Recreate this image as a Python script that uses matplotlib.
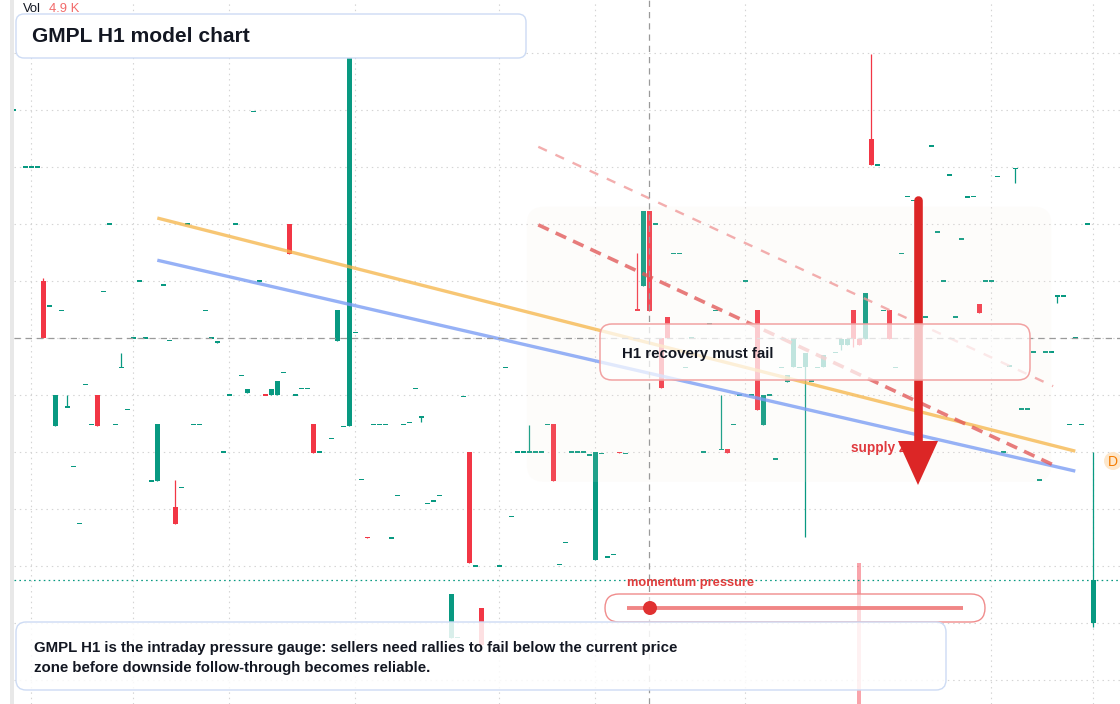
import matplotlib
matplotlib.use("Agg")
import matplotlib.pyplot as plt
from matplotlib.patches import FancyBboxPatch, Polygon, Rectangle, Circle
import numpy as np

plt.rcParams['font.family'] = ['Liberation Sans', 'DejaVu Sans']

# ---------------- data (H1 bars, price units) ----------------
candle_idx = [-2, 0, 1, 2, 3, 4, 5, 6, 7, 8,
              9, 10, 11, 12, 13, 14, 15, 16, 17, 18,
              19, 20, 21, 22, 23, 24, 25, 26, 27, 28,
              29, 30, 31, 32, 33, 34, 35, 36, 37, 38,
              39, 40, 41, 42, 43, 44, 45, 46, 47, 48,
              49, 51, 52, 53, 54, 55, 56, 57, 58, 59,
              60, 61, 62, 63, 64, 65, 66, 67, 68, 69,
              71, 72, 73, 74, 75, 76, 79, 80, 81, 82,
              83, 84, 85, 86, 87, 88, 89, 90, 91, 92,
              93, 94, 95, 96, 97, 98, 99, 100, 102, 103,
              104, 105, 106, 107, 108, 109, 110, 111, 113, 114,
              115, 116, 117, 118, 119, 120, 121, 122, 123, 124,
              125, 126, 127, 128, 129, 130, 131, 132, 133, 135,
              136, 137, 138, 139, 140, 141, 142, 143, 144, 145,
              146, 147, 148, 150, 151, 152, 153, 154, 155, 156,
              157, 158, 159, 160, 161, 162, 163, 164, 165, 166,
              167, 168, 169, 170, 171, 172, 173, 174, 175, 176,
              177, 178]

opens = [100, 90, 90, 90, 70, 65.7, 44.7, 64.9, 47.9, 37.5,
         27.5, 51.9, 44.9, 50, 68.2, 80, 44.9, 54.9, 47.5, 60,
         70, 60, 35, 34.9, 69.4, 59.6, 30.4, 33.8, 80, 44.9,
         44.9, 64.9, 60, 59.2, 40, 50, 80, 53.5, 50.4, 99.8,
         70, 50.1, 50, 50, 54, 80, 50, 51.2, 51.2, 44.9,
         40, 42.4, 59.5, 44.5, 44.7, 61, 35.2, 25.1, 44.9, 44.9,
         44.9, 25, 32.4, 44.9, 45.2, 51.2, 46.2, 31, 31.5, 32.4,
         7.5, 7.5, 49.8, 40, 20, 12.7, 20, 54.9, 28.7, 40,
         40, 40, 40, 40, 44.9, 44.9, 20.3, 24.2, 40, 40,
         40, 39.5, 21.1, 39.8, 21.6, 22.1, 40, 39.8, 65, 69.1,
         82.3, 80, 60, 63.7, 74.9, 74.9, 54.9, 60, 40, 62.5,
         64.9, 40.5, 40.5, 44.9, 50, 70, 50, 64.9, 44.8, 50,
         38.8, 54.9, 52.4, 54.9, 54.9, 54.9, 52.5, 54.9, 54.9, 57.5,
         58.8, 58.8, 65, 59.9, 59.9, 94.9, 90.4, 64.9, 64.9, 54.9,
         74.9, 84.9, 84.2, 63.7, 93.7, 78.6, 70, 88.6, 63.7, 77.4,
         84.8, 84.9, 66.1, 70, 70, 88.4, 40, 55.1, 89.8, 47.6,
         47.6, 57.6, 35.1, 57.6, 57.6, 67.4, 67.4, 44.9, 60, 44.9,
         80, 10]

closes = [100, 90, 90, 90, 60, 65.7, 50, 64.9, 47.9, 37.5,
          27.5, 51.9, 44.9, 44.7, 68.2, 80, 44.9, 54.9, 47.5, 60,
          70, 60, 35, 44.9, 69.4, 59.6, 27.5, 33.8, 80, 44.9,
          44.9, 64.9, 60, 59.5, 40, 50, 80, 53.5, 51.1, 99.8,
          70, 50, 51.1, 52.5, 54, 74.8, 50, 51.2, 51.2, 39.9,
          40, 42.4, 64.9, 44.5, 109.4, 61, 35.2, 25, 44.9, 44.9,
          44.9, 25, 32.4, 44.9, 45.2, 51.2, 46.2, 31, 31.5, 32.4,
          15.1, 7.5, 49.8, 20.6, 20, 6.2, 20, 54.9, 28.7, 40,
          40, 40, 40, 40, 44.9, 34.9, 20.3, 24.2, 40, 40,
          40, 39.5, 40, 39.8, 21.6, 22.1, 39.9, 39.8, 64.9, 82.3,
          64.8, 80, 51.3, 60, 74.9, 74.9, 54.9, 60, 40, 62.5,
          64.9, 40.5, 39.9, 44.9, 50, 70, 50, 47.4, 50, 50,
          38.8, 54.9, 53.6, 60, 54.9, 57.5, 52.5, 54.9, 57, 57.5,
          59.9, 59.9, 59.9, 58.8, 67.9, 90.4, 90.4, 64.9, 59.9, 54.9,
          74.9, 84.9, 84.2, 63.7, 93.7, 78.6, 70, 88.6, 63.7, 77.4,
          84.8, 84.9, 64.4, 70, 70, 88.4, 40, 55.1, 89.8, 47.6,
          47.6, 57.6, 35.1, 57.6, 57.6, 67.4, 67.4, 44.9, 60, 44.9,
          80, 17.6]

highs = [100, 90, 90.3, 90, 70.6, 65.7, 50, 64.9, 50, 37.5,
         27.5, 51.9, 44.9, 50, 68.2, 80, 44.9, 57.5, 47.5, 60,
         70, 60, 35, 44.9, 69.4, 59.6, 35.1, 33.8, 80, 44.9,
         44.9, 64.9, 60, 59.5, 40, 50, 80, 53.5, 51.1, 99.8,
         70, 50.1, 51.1, 52.5, 54, 80, 50, 51.2, 51.2, 44.9,
         40, 42.4, 64.9, 44.5, 109.4, 61, 35.2, 25.1, 44.9, 44.9,
         44.9, 25, 32.4, 44.9, 45.2, 51.2, 46.2, 31, 31.5, 32.4,
         15.1, 7.5, 49.8, 40, 20, 12.7, 20, 54.9, 28.7, 40,
         40, 44.8, 40, 40, 44.9, 44.9, 20.3, 24.2, 40, 40,
         40, 39.5, 40, 39.8, 21.6, 22.1, 40, 39.8, 74.9, 82.3,
         82.3, 80, 60, 63.7, 74.9, 74.9, 54.9, 60, 40, 62.5,
         64.9, 50, 40.5, 44.9, 50, 70, 50, 64.9, 50, 50,
         38.8, 54.9, 53.6, 60, 54.9, 57.5, 52.5, 54.9, 57, 57.5,
         59.9, 59.9, 65, 59.9, 67.9, 109.9, 90.4, 64.9, 64.9, 54.9,
         74.9, 84.9, 84.2, 63.7, 93.7, 78.6, 70, 88.6, 63.7, 77.4,
         84.8, 84.9, 66.1, 70, 70, 88.4, 40, 55.1, 89.8, 47.6,
         47.6, 57.6, 35.1, 57.6, 57.6, 67.4, 67.4, 44.9, 60, 44.9,
         80, 40]

lows = [100, 90, 90, 90, 60, 65.7, 44.7, 64.9, 47.9, 37.5,
        27.5, 51.9, 44.9, 44.7, 68.2, 80, 44.9, 54.9, 47.5, 60,
        70, 60, 35, 34.9, 69.4, 59.6, 27.5, 33.8, 80, 44.9,
        44.9, 64.9, 60, 59.2, 40, 50, 80, 53.5, 50.4, 99.8,
        70, 50, 50, 50, 54, 74.8, 50, 51.2, 51.2, 39.9,
        40, 42.4, 59.5, 44.5, 44.7, 61, 35.2, 25, 44.9, 44.9,
        44.9, 25, 32.4, 44.9, 45.2, 51.2, 45.3, 31, 31.5, 32.4,
        7.5, 7.5, 49.8, 20.6, 20, 6.2, 20, 54.9, 28.7, 40,
        40, 40, 40, 40, 44.9, 34.9, 20.3, 24.2, 40, 40,
        40, 39.5, 21.1, 39.8, 21.6, 22.1, 39.9, 39.8, 64.9, 69.1,
        64.8, 80, 51.3, 60, 74.9, 74.9, 54.9, 60, 40, 62.5,
        64.9, 40.5, 39.9, 44.9, 50, 70, 50, 47.4, 44.8, 50,
        38.8, 54.9, 52.4, 54.9, 54.9, 25.2, 52.5, 54.9, 54.9, 57.5,
        57.9, 58.8, 58.5, 58.8, 59.9, 90.4, 90.4, 64.9, 59.9, 54.9,
        74.9, 84.9, 84.2, 63.7, 93.7, 78.6, 70, 88.6, 63.7, 77.4,
        84.8, 84.9, 64.4, 70, 70, 88.4, 40, 55.1, 87.3, 47.6,
        47.6, 57.6, 35.1, 57.6, 57.6, 66.2, 67.4, 44.9, 60, 44.9,
        80, 9.3]

volume_idx = [139]
volume_k = [4.9]

# trend lines (bar index, price)
yellow_line_idx = [22, 175]
yellow_line_px = [81.1, 40.2]
blue_line_idx = [22, 175]
blue_line_px = [73.7, 36.7]
red_dash_idx = [85.5, 171.3]
red_dash_px = [79.9, 37.8]
pink_dash_idx = [85.5, 171.3]
pink_dash_px = [93.6, 51.6]

zone_idx = [83.6, 171.0]
zone_px = [34.8, 83.1]

grid_levels = [0, 10, 20, 30, 40, 50, 60, 70, 80, 90, 100, 110]
session_idx = [1, 18, 34, 55, 79, 95, 120, 161, 178]
crosshair_idx = 104
crosshair_px = 60

UP = '#089981'
DOWN = '#f23645'

# ---------------- figure ----------------
W, H = 1120, 704
fig = plt.figure(figsize=(W / 100, H / 100), dpi=100)
fig.patch.set_facecolor('white')
ax = fig.add_axes([14 / W, 0, 1 - 14 / W, 1])
ax.set_xlim(-1.883, 182.45)
ax.set_ylim(-4.16, 119.35)
ax.axis('off')
T = fig.dpi_scale_trans


def P(x, y):
    return (x / 100.0, (H - y) / 100.0)


# left border strip
fig.patches.append(Rectangle(P(10, 704), 4 / 100, 7.04, transform=T,
                             facecolor='#e8e8e8', edgecolor='none', zorder=0))

# grid
for g in grid_levels:
    ax.axhline(g, color='#d4d4d4', lw=0.8, ls=(0, (1.3, 3.5)), zorder=0)
for s in session_idx:
    ax.axvline(s, color='#d4d4d4', lw=0.8, ls=(0, (1.3, 3.5)), zorder=0)

# volume (bottom pane, 20% height)
ylo, yhi = ax.get_ylim()
pane_h = 0.2 * (yhi - ylo)
vmax = max(volume_k)
for i, v in zip(volume_idx, volume_k):
    ax.bar(i, v / vmax * pane_h, bottom=ylo, width=0.7,
           color=DOWN, alpha=0.45, zorder=1, linewidth=0)

# candles
o = np.array(opens, float); c = np.array(closes, float)
hi = np.array(highs, float); lo = np.array(lows, float)
xi = np.array(candle_idx, float)
cols = np.where(c >= o, UP, DOWN)
ax.vlines(xi, lo, hi, colors=cols, lw=0.9, zorder=2)
bot = np.minimum(o, c)
ht = np.abs(c - o)
min_h = 0.28
small = ht < min_h
bot = np.where(small, (o + c) / 2 - min_h / 2, bot)
ht = np.where(small, min_h, ht)
ax.bar(xi, ht, bottom=bot, width=0.8, color=cols, linewidth=0, zorder=2.1)

# zone shading
ax.add_patch(FancyBboxPatch((zone_idx[0], zone_px[0]), zone_idx[1] - zone_idx[0],
                            zone_px[1] - zone_px[0],
                            boxstyle="round,pad=0,rounding_size=3",
                            mutation_aspect=0.95,
                            facecolor='#f3e7da', alpha=0.11, edgecolor='none', zorder=3))

# trend lines
ax.plot(yellow_line_idx, yellow_line_px, color='#f6b74d', alpha=0.78, lw=2.4,
        solid_capstyle='butt', zorder=4)
ax.plot(blue_line_idx, blue_line_px, color='#7c9ef4', alpha=0.8, lw=2.4,
        solid_capstyle='butt', zorder=4)
ax.plot(red_dash_idx, red_dash_px, color='#e25858', alpha=0.78, lw=2.6,
        ls=(0, (3.2, 2.1)), zorder=4)
ax.plot(pink_dash_idx, pink_dash_px, color='#f09a9a', alpha=0.8, lw=1.7,
        ls=(0, (4.0, 4.0)), zorder=4)

# price line (last close)
ax.axhline(closes[-1], color=UP, lw=0.9, ls=(0, (1.3, 2.6)), zorder=4)

# crosshair
ax.axvline(crosshair_idx, color='#9a9a9a', lw=0.9, ls=(0, (5, 4)), zorder=4.5)
ax.axhline(crosshair_px, color='#9a9a9a', lw=0.9, ls=(0, (5, 4)), zorder=4.5)

# supply zone label (under arrow)
ax.text(*P(851, 448), 'supply zone', transform=T, fontsize=9.8, fontweight='bold',
        color='#e0393e', va='center', ha='left', zorder=4.8)

# big arrow
ax.plot([P(918, 200)[0], P(918, 445)[0]], [P(918, 200)[1], P(918, 445)[1]],
        transform=T, color='#dc2626', lw=6.2, solid_capstyle='round', zorder=5)
ax.add_patch(Polygon([P(898, 441), P(938, 441), P(918, 485)], closed=True,
                     transform=T, facecolor='#dc2626', edgecolor='none', zorder=5))


def box(x0, y0, x1, y1, fc, ec, lw, r, z):
    p = FancyBboxPatch(P(x0, y1), (x1 - x0) / 100, (y1 - y0) / 100,
                       boxstyle=f"round,pad=0,rounding_size={r / 100}",
                       transform=T, facecolor=fc, edgecolor=ec, lw=lw,
                       zorder=z, clip_on=False)
    ax.add_patch(p)


# H1 callout
box(600, 324, 1030, 380, (1, 1, 1, 0.72), '#f2a2a2', 1.1, 12, 6)
ax.text(*P(622, 354), 'H1 recovery must fail', transform=T, fontsize=10.8,
        fontweight='bold', color='#131722', va='center', ha='left', zorder=6.1)

# momentum gauge
ax.text(*P(627, 583), 'momentum pressure', transform=T, fontsize=9.3,
        fontweight='bold', color='#e03c3c', va='center', ha='left', zorder=7)
box(605, 594, 985, 622, (1, 1, 1, 0.6), '#f08c8c', 1.0, 14, 6.5)
ax.plot([P(627, 608)[0], P(963, 608)[0]], [P(627, 608)[1], P(963, 608)[1]],
        transform=T, color='#f08080', lw=2.8, alpha=0.95, solid_capstyle='butt', zorder=6.6)
ax.add_patch(Circle(P(650, 608), 0.07, transform=T, facecolor='#e03131',
                    edgecolor='none', zorder=6.7))

# bottom note
box(16, 622, 946, 690, (1, 1, 1, 0.85), '#cddbf4', 1.0, 10, 6.5)
ax.text(*P(34, 648), 'GMPL H1 is the intraday pressure gauge: sellers need rallies to fail below the current price',
        transform=T, fontsize=10.8, fontweight='bold', color='#131722', va='center', ha='left', zorder=6.6)
ax.text(*P(34, 668), 'zone before downside follow-through becomes reliable.',
        transform=T, fontsize=10.8, fontweight='bold', color='#131722', va='center', ha='left', zorder=6.6)

# title
box(16, 14, 526, 58, (1, 1, 1, 1), '#cddbf4', 1.0, 8, 8)
ax.text(*P(32, 36), 'GMPL H1 model chart', transform=T, fontsize=15.1,
        fontweight='bold', color='#131722', va='center', ha='left', zorder=8.1)

# legend
ax.text(*P(23, 9), 'Vol', transform=T, fontsize=9.4, color='#131722',
        va='center', ha='left', zorder=9)
ax.text(*P(49, 9), '4.9 K', transform=T, fontsize=9.4, color='#f26b6b',
        va='center', ha='left', zorder=9)

# D marker
ax.add_patch(Circle(P(1113, 461), 0.09, transform=T, facecolor='#fde7cb',
                    edgecolor='none', zorder=8, clip_on=False))
ax.text(*P(1113, 462), 'D', transform=T, fontsize=10, color='#f57c00',
        va='center', ha='center', zorder=8.1)

fig.savefig('out.png', dpi=100, facecolor='white')
